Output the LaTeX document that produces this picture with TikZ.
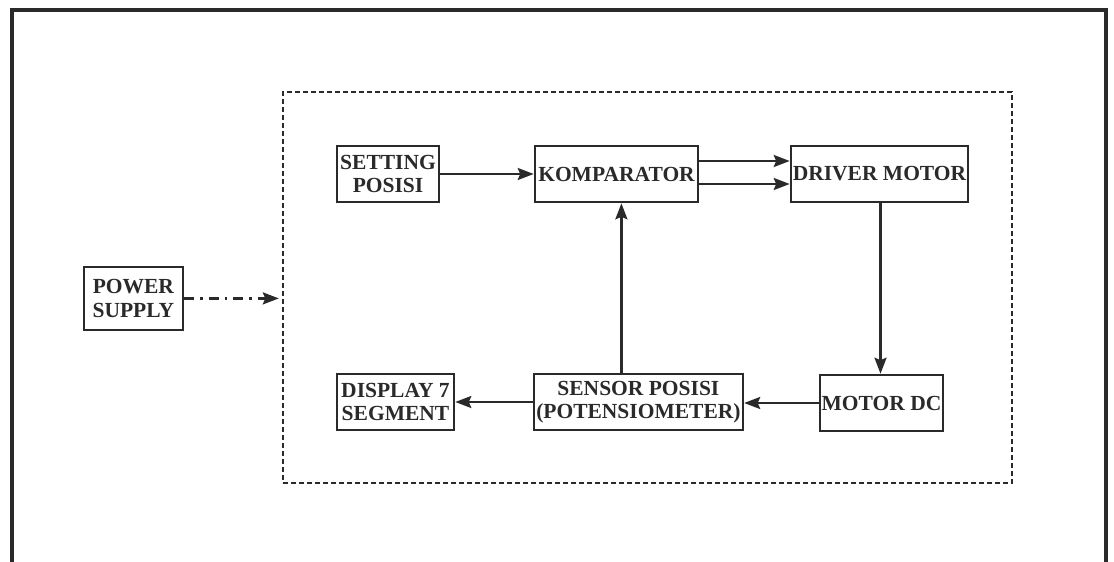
\documentclass[tikz,border=0pt]{standalone}
\usepackage{fontspec}
\setmainfont{Liberation Serif}
\usetikzlibrary{arrows.meta,calc}
\definecolor{ink}{HTML}{2A2A2A}
\tikzset{
  blk/.style={draw=ink, line width=2.6pt, text=ink, align=center, inner sep=0pt,
    font=\fontsize{21.5}{23.5}\selectfont\bfseries},
  arr/.style={draw=ink, line width=2.4pt, -{Stealth[length=16pt,width=12pt,inset=2.5pt]}},
  dashbox/.style={draw=ink, line width=2.4pt, dash pattern=on 5pt off 3pt},
  frame/.style={draw=ink, line width=4pt}
}
\begin{document}
\begin{tikzpicture}[x=1pt,y=-1pt]
\useasboundingbox[fill=white] (0,0) rectangle (1114,562);
\draw[frame] (12,600) -- (12,10) -- (1106,10) -- (1106,600);
\node[dashbox, minimum width=729pt, minimum height=391pt] (sys) at (647.5,287.5) {};
\node[blk, minimum width=99pt, minimum height=63pt] (power) at (133.4,298.4) {POWER\\SUPPLY};
\node[blk, minimum width=102pt, minimum height=56pt] (setting) at (388,174) {SETTING\\POSISI};
\node[blk, minimum width=163pt, minimum height=56pt] (komp) at (616.5,174) {KOMPARATOR};
\node[blk, minimum width=177pt, minimum height=56pt] (driver) at (879.5,174) {DRIVER MOTOR};
\node[blk, minimum width=123pt, minimum height=56pt] (motor) at (881.5,403) {MOTOR DC};
\node[blk, minimum width=209pt, minimum height=56pt] (sensor) at (638.4,402) {SENSOR POSISI\\(POTENSIOMETER)};
\node[blk, minimum width=117pt, minimum height=56pt] (display) at (395.5,402) {DISPLAY 7\\SEGMENT};
\draw[arr] (setting.east) -- (komp.west);
\draw[arr] ([yshift=13pt]komp.east) -- ([yshift=13pt]komp.east -| driver.west);
\draw[arr] ([yshift=-10pt]komp.east) -- ([yshift=-10pt]komp.east -| driver.west);
\draw[arr] ([xshift=1pt]driver.south) -- ([xshift=1pt]driver.south |- motor.north);
\draw[arr] (motor.west) -- (motor.west -| sensor.east);
\draw[arr] (sensor.west) -- (sensor.west -| display.east);
\draw[arr] ([xshift=-17pt]sensor.north) -- ([xshift=-17pt]sensor.north |- komp.south);
\draw[arr, dash pattern=on 10pt off 6pt on 2.5pt off 6pt, shorten >=3pt] (power.east) -- (power.east -| sys.west);
\end{tikzpicture}
\end{document}
